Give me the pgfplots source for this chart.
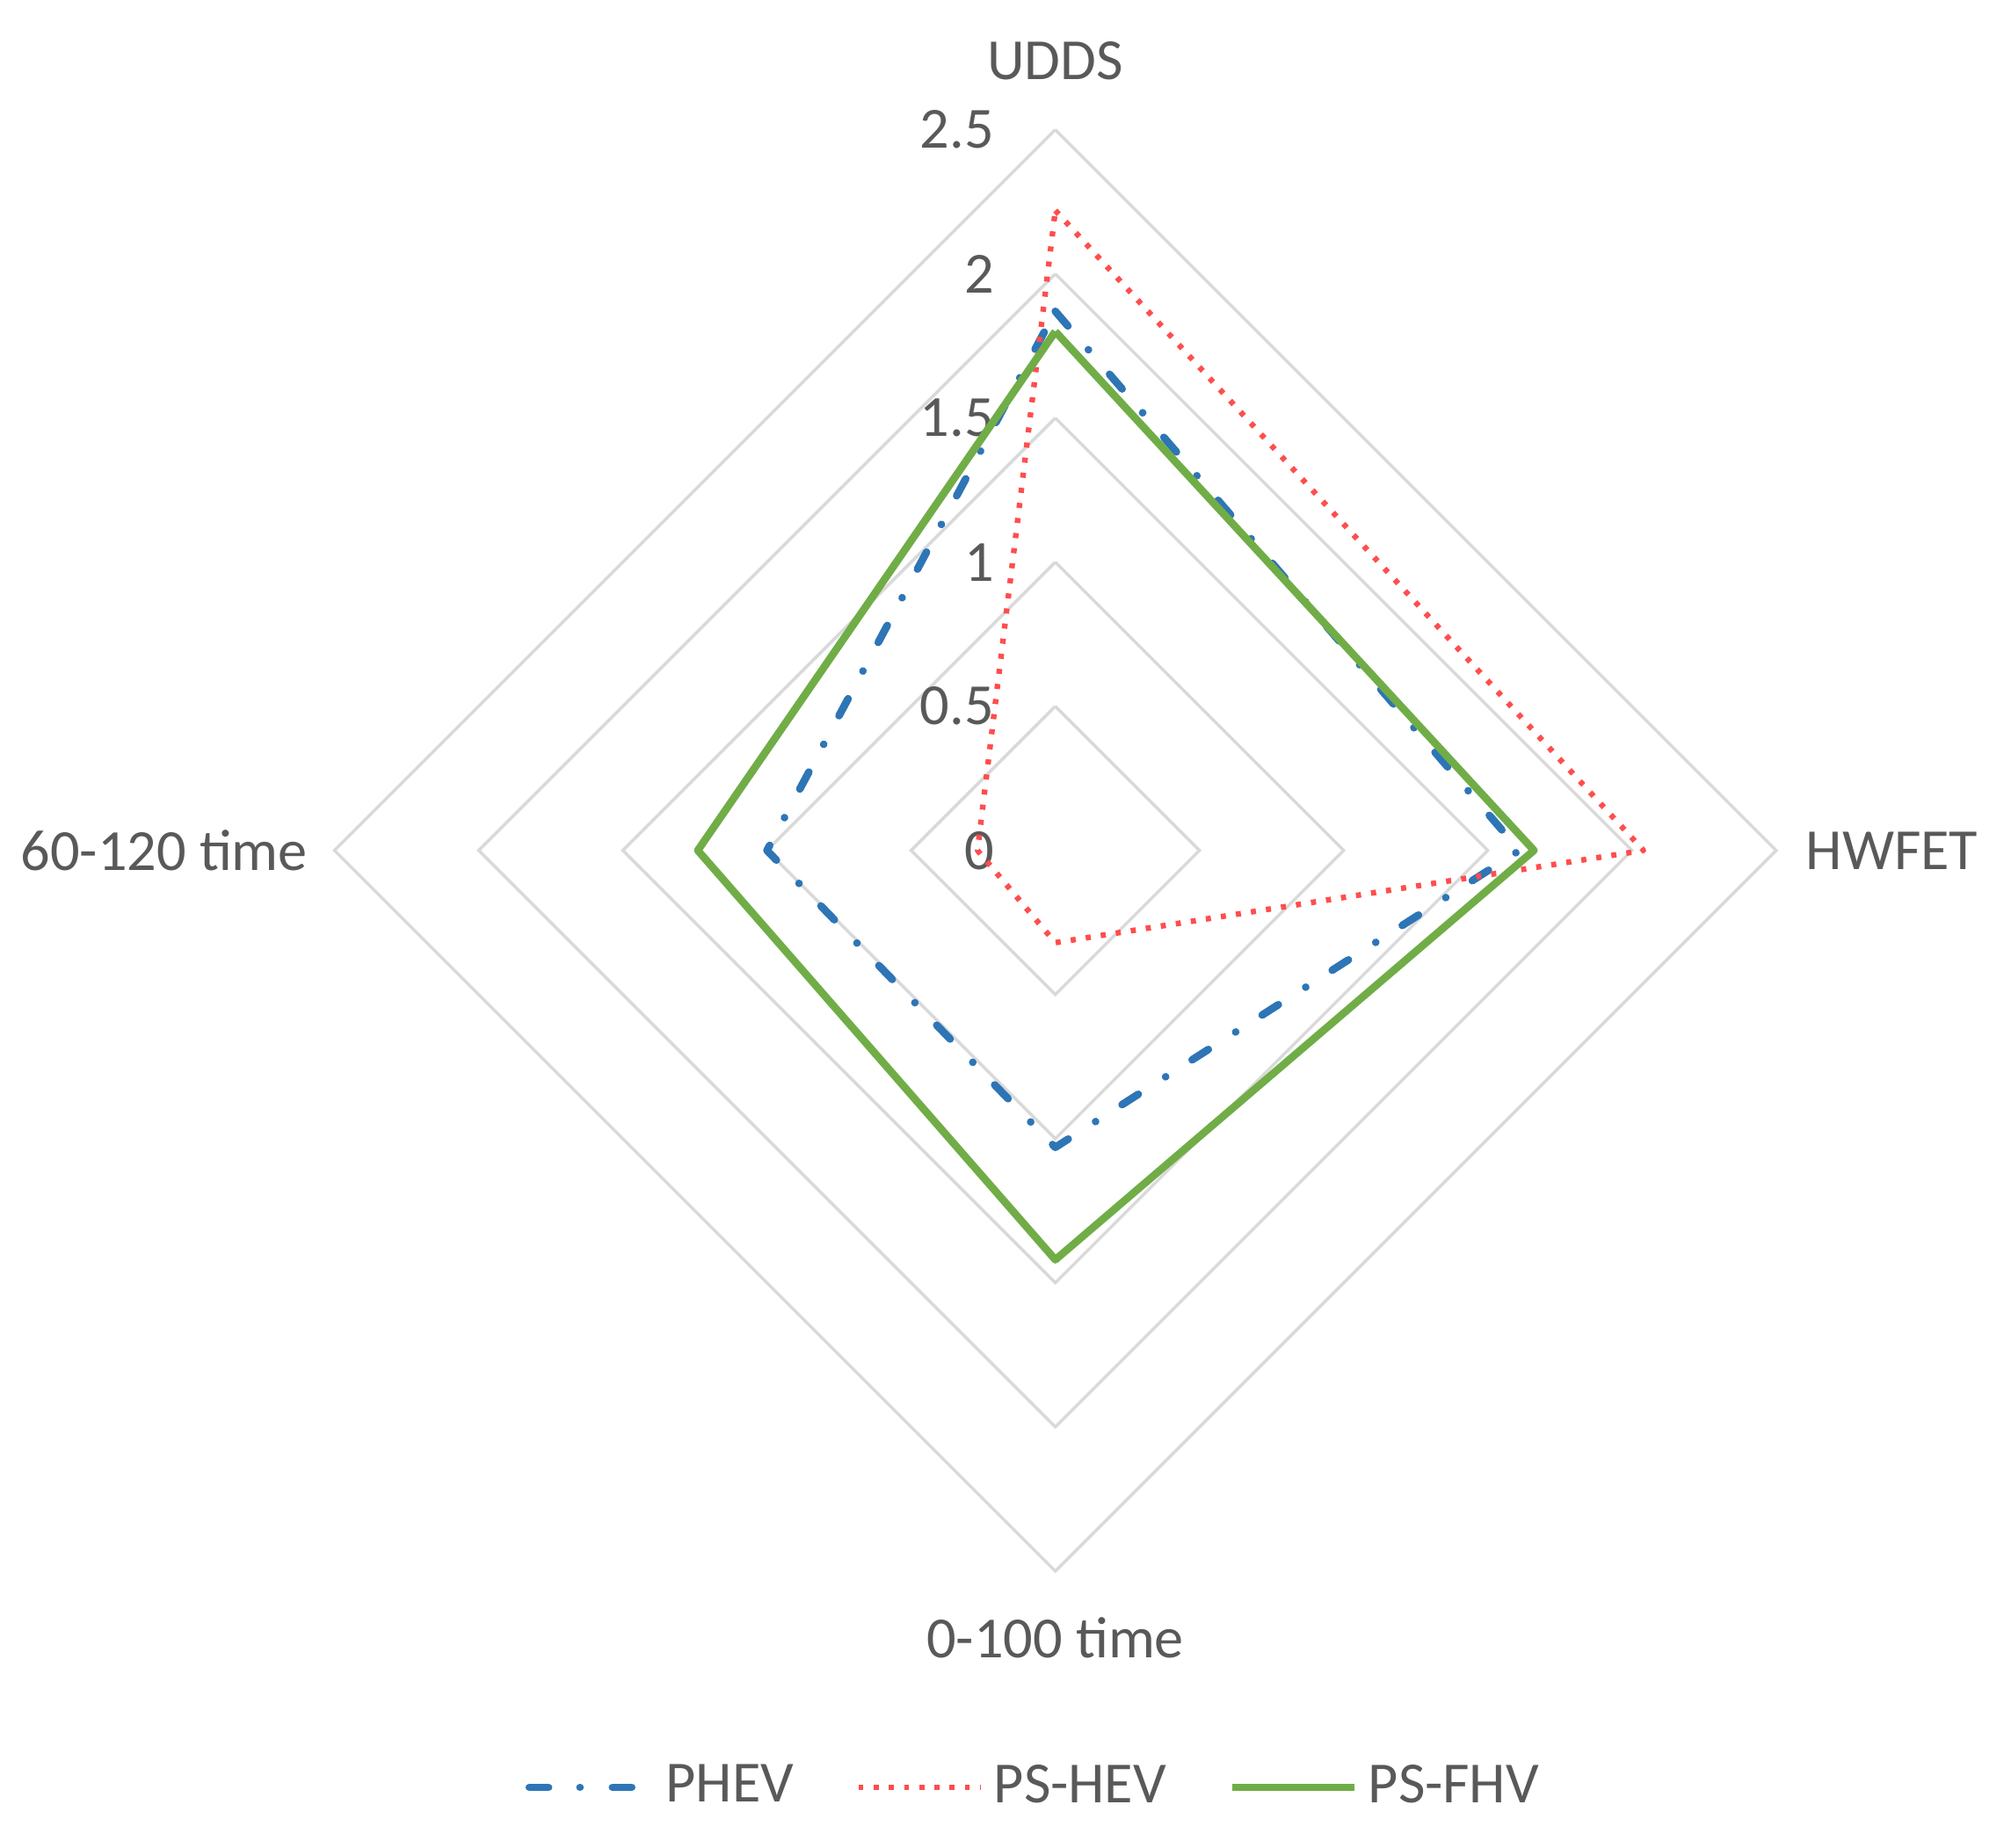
\documentclass[border=0pt]{standalone}
\usepackage{fontspec}
\setmainfont{Carlito}
\usepackage{pgfplots}
\pgfplotsset{compat=1.18}

\definecolor{ring}{HTML}{D9D9D9}
\definecolor{txt}{HTML}{595959}
\definecolor{phev}{RGB}{46,117,182}
\definecolor{pshev}{HTML}{FF4D4D}
\definecolor{psfhv}{HTML}{70AD47}

% radar values: UDDS (up), HWFET (right), 0-100 time (down), 60-120 time (left)
\pgfplotstableread{
x     y
0     1.87
1.61  0
0    -1.03
-1.00 0
0     1.87
}\phevdata
\pgfplotstableread{
x     y
0     2.22
2.04  0
0    -0.32
-0.27 0
0     2.22
}\pshevdata
\pgfplotstableread{
x     y
0     1.80
1.66  0
0    -1.42
-1.24 0
0     1.80
}\psfhvdata

\begin{document}
\begin{tikzpicture}[font=\fontsize{11.5}{13.8}\selectfont]
\begin{axis}[
  at={(0,0)}, anchor=center,
  scale only axis,
  width=10cm, height=10cm,
  xmin=-2.5, xmax=2.5, ymin=-2.5, ymax=2.5,
  axis lines=none,
  clip=false,
  legend columns=3,
  legend style={
    at={(axis description cs:0.484,-0.15)}, anchor=center,
    draw=none, fill=none, inner sep=0pt,
    text=txt,
    nodes={inner sep=0pt},
    /tikz/every odd column/.append style={column sep=0.07cm},
    /tikz/every even column/.append style={column sep=0.43cm},
  },
  legend image code/.code={\draw[#1] (0cm,0cm) -- (0.85cm,0cm);},
]
% rings
\foreach \r in {0.5,1,1.5,2,2.5} {
  \edef\tmp{\noexpand\addplot[ring, line width=0.6pt, forget plot]
    coordinates {(0,\r) (\r,0) (0,-\r) (-\r,0) (0,\r)};}
  \tmp
}
% value labels
\foreach \v/\s in {0/0,0.5/0.5,1/1,1.5/1.5,2/2,2.5/2.5} {
  \edef\tmp{\noexpand\node[anchor=east, text=txt, inner sep=0pt] at (axis cs:-0.21,\v) {\s};}
  \tmp
}
% category labels
\node[text=txt, inner sep=0pt] at (axis cs:0,2.74) {UDDS};
\node[text=txt, anchor=west, inner sep=0pt] at (axis cs:2.60,0) {HWFET};
\node[text=txt, inner sep=0pt] at (axis cs:0,-2.73) {0-100 time};
\node[text=txt, anchor=east, inner sep=0pt] at (axis cs:-2.59,0) {60-120 time};

\addplot[phev, line width=1.5pt, line cap=round, line join=round,
  dash pattern=on 3.8pt off 6.2pt on 0.01pt off 6.4pt]
  table[x=x, y=y] {\phevdata};
\addlegendentry{PHEV}
\addplot[pshev, line width=1.1pt, line join=round,
  dash pattern=on 1pt off 2pt]
  table[x=x, y=y] {\pshevdata};
\addlegendentry{PS-HEV}
\addplot[psfhv, line width=1.5pt, line join=round]
  table[x=x, y=y] {\psfhvdata};
\addlegendentry{PS-FHV}
\end{axis}
\pgfresetboundingbox
\path[use as bounding box] (-7.32,-6.92) rectangle (6.58,5.90);
\end{tikzpicture}
\end{document}
